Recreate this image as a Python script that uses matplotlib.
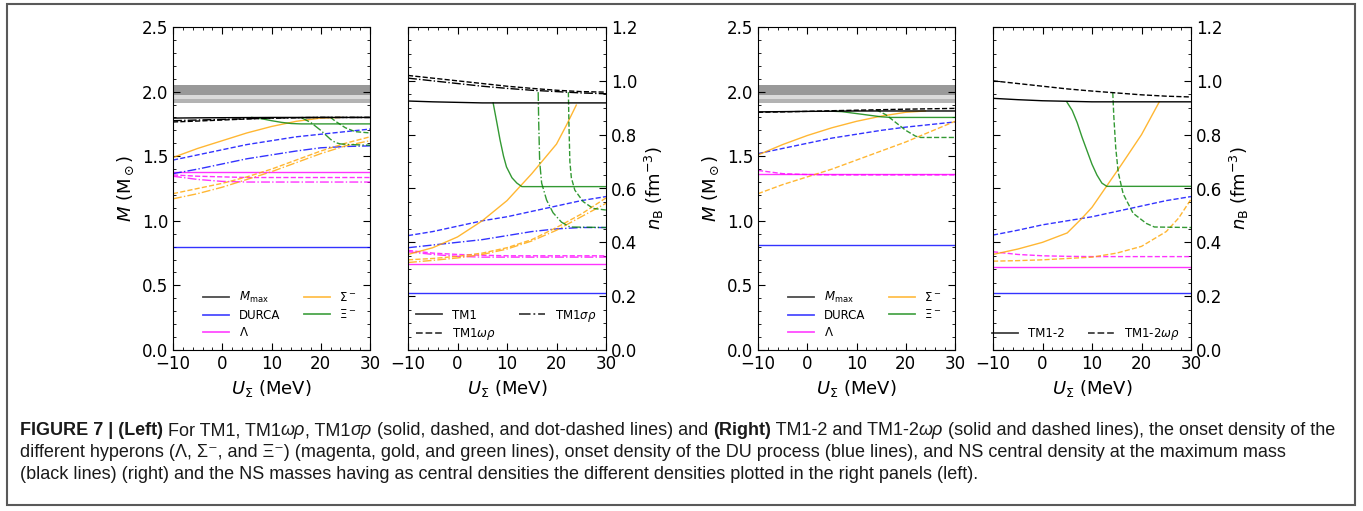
"""
Onset densities of hyperons / DURCA and the corresponding NS masses
versus U_Sigma, for the TM1 family (left) and TM1-2 family (right).
"""
import matplotlib
matplotlib.use("Agg")
import matplotlib.pyplot as plt
from matplotlib import font_manager
from matplotlib.lines import Line2D
from matplotlib.patches import Rectangle
from matplotlib.ticker import AutoMinorLocator, MultipleLocator

# ---- Data ----
U = [-10, -5, 0, 5, 10, 15, 20, 25, 30]

# left block, masses (M_sun): TM1 / TM1wr / TM1sr
m_max_tm1 = [1.795, 1.797, 1.798, 1.799, 1.80, 1.80, 1.80, 1.80, 1.80]
m_max_wr = [1.765, 1.772, 1.780, 1.788, 1.795, 1.798, 1.80, 1.80, 1.80]
m_max_sr = [1.775, 1.780, 1.785, 1.790, 1.795, 1.798, 1.80, 1.80, 1.80]
m_du_tm1 = [0.80, 0.80, 0.80, 0.80, 0.80, 0.80, 0.80, 0.80, 0.80]
m_du_wr = [1.47, 1.51, 1.55, 1.59, 1.62, 1.65, 1.67, 1.69, 1.71]
m_du_sr = [1.365, 1.40, 1.44, 1.48, 1.51, 1.54, 1.565, 1.575, 1.58]
m_lam_tm1 = [1.38, 1.38, 1.38, 1.38, 1.38, 1.38, 1.38, 1.38, 1.38]
m_lam_wr = [1.355, 1.345, 1.34, 1.335, 1.335, 1.335, 1.335, 1.335, 1.335]
m_lam_sr = [1.345, 1.32, 1.305, 1.30, 1.30, 1.30, 1.30, 1.30, 1.30]
u_sig_tm1 = [-10, -5, 0, 5, 10, 15, 20, 24]
m_sig_tm1 = [1.49, 1.56, 1.62, 1.68, 1.73, 1.77, 1.795, 1.80]
m_sig_wr = [1.21, 1.25, 1.29, 1.34, 1.40, 1.47, 1.54, 1.60, 1.65]
m_sig_sr = [1.17, 1.21, 1.26, 1.32, 1.38, 1.45, 1.52, 1.58, 1.62]
u_xi_tm1 = [6, 8, 10, 12, 14, 16, 30]
m_xi_tm1 = [1.80, 1.79, 1.775, 1.762, 1.753, 1.75, 1.75]
u_xi_sr = [16, 18, 20, 22, 23, 24, 26, 30]
m_xi_sr = [1.80, 1.76, 1.70, 1.63, 1.605, 1.595, 1.59, 1.585]
u_xi_wr = [22, 23, 25, 27, 30]
m_xi_wr = [1.80, 1.77, 1.72, 1.69, 1.68]

# left block, densities (fm^-3)
n_max_tm1 = [0.925, 0.922, 0.92, 0.918, 0.918, 0.918, 0.918, 0.918, 0.918]
n_max_wr = [1.02, 1.01, 1.0, 0.99, 0.98, 0.972, 0.965, 0.96, 0.958]
n_max_sr = [1.01, 1.0, 0.99, 0.98, 0.972, 0.965, 0.96, 0.955, 0.952]
n_du_tm1 = [0.21, 0.21, 0.21, 0.21, 0.21, 0.21, 0.21, 0.21, 0.21]
n_du_wr = [0.425, 0.44, 0.46, 0.48, 0.495, 0.515, 0.535, 0.555, 0.57]
n_du_sr = [0.38, 0.39, 0.40, 0.41, 0.425, 0.44, 0.45, 0.455, 0.455]
n_lam_tm1 = [0.318, 0.318, 0.318, 0.318, 0.318, 0.318, 0.318, 0.318, 0.318]
n_lam_wr = [0.37, 0.36, 0.355, 0.352, 0.35, 0.35, 0.35, 0.35, 0.35]
n_lam_sr = [0.365, 0.355, 0.348, 0.345, 0.345, 0.345, 0.345, 0.345, 0.345]
u_nsig_tm1 = [-10, -5, 0, 5, 10, 15, 20, 22, 24]
n_sig_tm1 = [0.355, 0.38, 0.42, 0.48, 0.555, 0.655, 0.765, 0.835, 0.91]
n_sig_wr = [0.335, 0.34, 0.348, 0.36, 0.38, 0.41, 0.455, 0.505, 0.565]
n_sig_sr = [0.325, 0.333, 0.342, 0.355, 0.375, 0.405, 0.445, 0.495, 0.545]
u_nxi_tm1 = [7.2, 8, 8.6, 9.3, 9.9, 11, 12, 13, 30]
n_xi_tm1 = [0.918, 0.84, 0.78, 0.72, 0.68, 0.64, 0.62, 0.607, 0.607]
u_nxi_sr = [16.3, 16.4, 16.6, 17, 18, 19.3, 21, 22.7, 30]
n_xi_sr = [0.958, 0.85, 0.70, 0.62, 0.557, 0.51, 0.475, 0.457, 0.455]
u_nxi_wr = [22.4, 22.5, 22.7, 23, 23.7, 25.4, 27.4, 30]
n_xi_wr = [0.958, 0.85, 0.70, 0.64, 0.594, 0.551, 0.526, 0.52]

# right block, masses: TM1-2 / TM1-2wr
m_max_2 = [1.843, 1.845, 1.847, 1.848, 1.85, 1.85, 1.85, 1.85, 1.85]
m_max_2wr = [1.84, 1.843, 1.847, 1.852, 1.856, 1.86, 1.864, 1.867, 1.87]
m_du_2 = [0.81, 0.81, 0.81, 0.81, 0.81, 0.81, 0.81, 0.81, 0.81]
m_du_2wr = [1.52, 1.56, 1.60, 1.64, 1.67, 1.70, 1.725, 1.745, 1.765]
m_lam_2 = [1.36, 1.36, 1.36, 1.36, 1.36, 1.36, 1.36, 1.36, 1.36]
m_lam_2wr = [1.39, 1.365, 1.358, 1.355, 1.355, 1.355, 1.355, 1.355, 1.355]
u_sig_2 = [-10, -5, 0, 5, 10, 15, 20, 24]
m_sig_2 = [1.51, 1.59, 1.66, 1.72, 1.77, 1.81, 1.84, 1.85]
m_sig_2wr = [1.21, 1.28, 1.34, 1.40, 1.47, 1.54, 1.61, 1.69, 1.77]
u_xi_2 = [5, 7, 9, 11, 13, 15, 17, 30]
m_xi_2 = [1.848, 1.845, 1.835, 1.825, 1.815, 1.805, 1.80, 1.80]
u_xi_2wr = [14, 16, 18, 20, 22, 23, 30]
m_xi_2wr = [1.86, 1.82, 1.76, 1.70, 1.655, 1.645, 1.645]

# right block, densities
n_max_2 = [0.935, 0.93, 0.926, 0.924, 0.922, 0.922, 0.922, 0.922, 0.922]
n_max_2wr = [1.0, 0.99, 0.98, 0.97, 0.962, 0.955, 0.948, 0.943, 0.94]
n_du_2 = [0.213, 0.213, 0.213, 0.213, 0.213, 0.213, 0.213, 0.213, 0.213]
n_du_2wr = [0.427, 0.445, 0.465, 0.48, 0.495, 0.515, 0.535, 0.555, 0.57]
n_lam_2 = [0.31, 0.31, 0.31, 0.31, 0.31, 0.31, 0.31, 0.31, 0.31]
n_lam_2wr = [0.365, 0.355, 0.35, 0.348, 0.347, 0.347, 0.347, 0.347, 0.347]
u_nsig_2 = [-10, -5, 0, 5, 8, 10, 13, 16, 20, 23.6]
n_sig_2 = [0.355, 0.375, 0.40, 0.435, 0.49, 0.53, 0.61, 0.69, 0.80, 0.922]
u_nsig_2wr = [-10, -5, 0, 5, 10, 15, 20, 25, 27.5, 30]
n_sig_2wr = [0.33, 0.332, 0.335, 0.34, 0.345, 0.36, 0.385, 0.44, 0.49, 0.56]
u_nxi_2 = [4.9, 6, 7, 8, 9, 10, 11, 12, 13, 30]
n_xi_2 = [0.922, 0.89, 0.845, 0.79, 0.74, 0.69, 0.65, 0.62, 0.608, 0.608]
u_nxi_2wr = [14.2, 14.4, 14.8, 15.3, 16.3, 18.3, 21, 22.6, 30]
n_xi_2wr = [0.955, 0.87, 0.75, 0.66, 0.58, 0.508, 0.47, 0.457, 0.455]

# observed pulsar masses (grey bands)
band_wide = (1.911, 2.05)
band_hi = (1.97, 2.05)
band_lo = (1.911, 1.945)

# ---- Styling ----
W, H = 1363, 511
C_MAX, C_DU, C_LAM, C_SIG, C_XI = "black", "blue", "magenta", "orange", "green"
LW = 1.0
ALPHA = 0.8

fig = plt.figure(figsize=(W / 100, H / 100), dpi=100)


def panel_axes(x0, x1):
    return fig.add_axes([x0 / W, 1 - 350 / H, (x1 - x0) / W, 323 / H])


def style_axes(ax, right=False):
    ax.set_xlim(-10, 30)
    ax.xaxis.set_major_locator(MultipleLocator(10))
    ax.xaxis.set_minor_locator(AutoMinorLocator())
    ax.yaxis.set_minor_locator(AutoMinorLocator())
    ax.tick_params(which="both", direction="in", top=True, right=True, labelsize=12)
    ax.tick_params(which="major", length=5)
    ax.tick_params(which="minor", length=2.5)
    if right:
        ax.tick_params(labelleft=False, labelright=True)
        ax.yaxis.set_label_position("right")
        ax.set_ylabel(r"$n_{\rm B}$ (fm$^{-3}$)", fontsize=13)
    else:
        ax.set_ylabel(r"$M$ (M$_\odot$)", fontsize=13)
    ax.set_xlabel(r"$U_\Sigma$ (MeV)", fontsize=13)


def mass_panel(ax, rows):
    ax.set_ylim(0, 2.5)
    ax.yaxis.set_major_locator(MultipleLocator(0.5))
    ax.axhspan(*band_wide, color="0.86", lw=0)
    ax.axhspan(*band_hi, color="0.6", lw=0)
    ax.axhspan(*band_lo, color="0.7", lw=0)
    for x, y, c, ls in rows:
        ax.plot(x, y, color=c, ls=ls, lw=LW, alpha=1 if c == C_MAX else ALPHA)
    style_axes(ax)
    handles = [Line2D([], [], color=c, lw=1.3, alpha=0.7) for c in (C_MAX, C_DU, C_LAM, C_SIG, C_XI)]
    labels = [r"$M_{\rm max}$", "DURCA", r"$\Lambda$", r"$\Sigma^-$", r"$\Xi^-$"]
    ax.legend(handles, labels, ncol=2, loc="lower left", bbox_to_anchor=(0.1, 0.0),
              frameon=False, fontsize=8.5, handlelength=2.2, columnspacing=2.0,
              labelspacing=0.35)


def density_panel(ax, rows, leg_labels, leg_styles, leg_x):
    ax.set_ylim(0, 1.2)
    ax.yaxis.set_major_locator(MultipleLocator(0.2))
    for x, y, c, ls in rows:
        ax.plot(x, y, color=c, ls=ls, lw=LW, alpha=1 if c == C_MAX else ALPHA)
    style_axes(ax, right=True)
    handles = [Line2D([], [], color="k", ls=ls, lw=1.3, alpha=0.75) for ls in leg_styles]
    ax.legend(handles, leg_labels, ncol=2, loc="lower left", bbox_to_anchor=(leg_x, 0.0),
              frameon=False, fontsize=8.5, handlelength=2.2, columnspacing=2.0,
              labelspacing=0.35, borderaxespad=0.3)


# ---- Left block: TM1, TM1wr, TM1sr ----
ax1 = panel_axes(173, 370)
mass_panel(ax1, [
    (U, m_lam_tm1, C_LAM, "-"), (U, m_lam_wr, C_LAM, "--"), (U, m_lam_sr, C_LAM, "-."),
    (U, m_du_tm1, C_DU, "-"), (U, m_du_wr, C_DU, "--"), (U, m_du_sr, C_DU, "-."),
    (u_sig_tm1, m_sig_tm1, C_SIG, "-"), (U, m_sig_wr, C_SIG, "--"), (U, m_sig_sr, C_SIG, "-."),
    (u_xi_tm1, m_xi_tm1, C_XI, "-"), (u_xi_wr, m_xi_wr, C_XI, "--"), (u_xi_sr, m_xi_sr, C_XI, "-."),
    (U, m_max_tm1, C_MAX, "-"), (U, m_max_wr, C_MAX, "--"), (U, m_max_sr, C_MAX, "-."),
])

ax2 = panel_axes(408, 606)
density_panel(ax2, [
    (U, n_lam_tm1, C_LAM, "-"), (U, n_lam_wr, C_LAM, "--"), (U, n_lam_sr, C_LAM, "-."),
    (U, n_du_tm1, C_DU, "-"), (U, n_du_wr, C_DU, "--"), (U, n_du_sr, C_DU, "-."),
    (u_nsig_tm1, n_sig_tm1, C_SIG, "-"), (U, n_sig_wr, C_SIG, "--"), (U, n_sig_sr, C_SIG, "-."),
    (u_nxi_tm1, n_xi_tm1, C_XI, "-"), (u_nxi_wr, n_xi_wr, C_XI, "--"), (u_nxi_sr, n_xi_sr, C_XI, "-."),
    (U, n_max_tm1, C_MAX, "-"), (U, n_max_wr, C_MAX, "--"), (U, n_max_sr, C_MAX, "-."),
], ["TM1", r"TM1$\omega\rho$", r"TM1$\sigma\rho$"], ["-", "--", "-."], 0.0)

# ---- Right block: TM1-2, TM1-2wr ----
ax3 = panel_axes(758, 955)
mass_panel(ax3, [
    (U, m_lam_2, C_LAM, "-"), (U, m_lam_2wr, C_LAM, "--"),
    (U, m_du_2, C_DU, "-"), (U, m_du_2wr, C_DU, "--"),
    (u_sig_2, m_sig_2, C_SIG, "-"), (U, m_sig_2wr, C_SIG, "--"),
    (u_xi_2, m_xi_2, C_XI, "-"), (u_xi_2wr, m_xi_2wr, C_XI, "--"),
    (U, m_max_2, C_MAX, "-"), (U, m_max_2wr, C_MAX, "--"),
])

ax4 = panel_axes(993, 1191)
density_panel(ax4, [
    (U, n_lam_2, C_LAM, "-"), (U, n_lam_2wr, C_LAM, "--"),
    (U, n_du_2, C_DU, "-"), (U, n_du_2wr, C_DU, "--"),
    (u_nsig_2, n_sig_2, C_SIG, "-"), (u_nsig_2wr, n_sig_2wr, C_SIG, "--"),
    (u_nxi_2, n_xi_2, C_XI, "-"), (u_nxi_2wr, n_xi_2wr, C_XI, "--"),
    (U, n_max_2, C_MAX, "-"), (U, n_max_2wr, C_MAX, "--"),
], ["TM1-2", r"TM1-2$\omega\rho$"], ["-", "--"], -0.045)

# ---- Frame and caption ----
cap = fig.add_axes([0, 0, 1, 1], zorder=-1)
cap.set_xlim(0, W)
cap.set_ylim(H, 0)
cap.axis("off")
cap.add_patch(Rectangle((7, 4), 1348, 501, fill=False, ec="0.35", lw=1.5))

installed = {f.name for f in font_manager.fontManager.ttflist}
cap_font = "Liberation Sans Narrow" if "Liberation Sans Narrow" in installed else "Liberation Sans"
families = [cap_font, "DejaVu Sans"]
CAP_SIZE = 13

caption = [
    [("FIGURE 7 | (Left)", "bold", "normal"), (" For TM1, TM1", "normal", "normal"),
     ("ωρ", "normal", "italic"), (", TM1", "normal", "normal"), ("σρ", "normal", "italic"),
     (" (solid, dashed, and dot-dashed lines) and ", "normal", "normal"),
     ("(Right)", "bold", "normal"), (" TM1-2 and TM1-2", "normal", "normal"),
     ("ωρ", "normal", "italic"),
     (" (solid and dashed lines), the onset density of the", "normal", "normal")],
    [("different hyperons (Λ, Σ⁻, and Ξ⁻) (magenta, gold, and green lines), onset density "
      "of the DU process (blue lines), and NS central density at the maximum mass",
      "normal", "normal")],
    [("(black lines) (right) and the NS masses having as central densities the different "
      "densities plotted in the right panels (left).", "normal", "normal")],
]
line_y = [439, 461, 483]

for segs, y in zip(caption, line_y):
    prev = None
    for text, weight, style in segs:
        kw = dict(fontsize=CAP_SIZE, family=families, weight=weight, style=style,
                  color="0.1", va="bottom", ha="left")
        if prev is None:
            prev = cap.text(20, y, text, **kw)
        else:
            prev = cap.annotate(text, xy=(1, 0), xycoords=prev, **kw)

fig.savefig("out.png", dpi=100)
